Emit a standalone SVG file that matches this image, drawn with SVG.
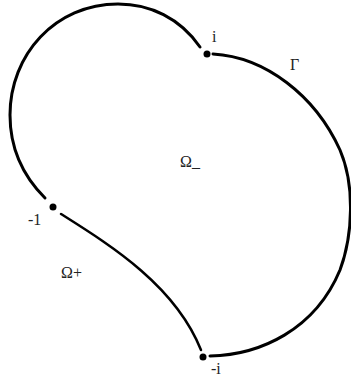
<svg xmlns="http://www.w3.org/2000/svg" width="351" height="378" viewBox="0 0 351 378">
<style>
.c{fill:none;stroke:#000;stroke-width:3;stroke-linecap:round}
.m{fill:none;stroke:#000;stroke-width:2.5;stroke-linecap:round}
.d{fill:#000}
text{font-family:"Liberation Serif","Times New Roman",serif;font-size:16px;fill:#222}
</style>
<rect width="351" height="378" fill="#fff"/>
<g id="connectors">
<path class="c" d="M 200 47 C 180 18 150 4 118 4 C 55 4 10 55 10 115 C 10 150 25 178 45 198"/>
<path class="c" d="M 213 54 C 265 57 315 95 340 150 C 355 185 353 235 340 270 C 315 330 260 355 210 356"/>
<path class="m" d="M 61 214 C 110 245 175 285 201 350"/>
</g>
<g id="node-i"><circle class="d" cx="207" cy="54" r="3.5"/><text x="212" y="42">i</text></g>
<g id="node-m1"><circle class="d" cx="53" cy="207" r="3.5"/><text x="28" y="225">-1</text></g>
<g id="node-mi"><circle class="d" cx="203" cy="357" r="3.5"/><text x="211" y="374">-i</text></g>
<g id="label-gamma"><text x="290" y="70">Γ</text></g>
<g id="label-omega-minus"><text x="180" y="167">Ω_</text></g>
<g id="label-omega-plus"><text x="61" y="278">Ω+</text></g>
</svg>
